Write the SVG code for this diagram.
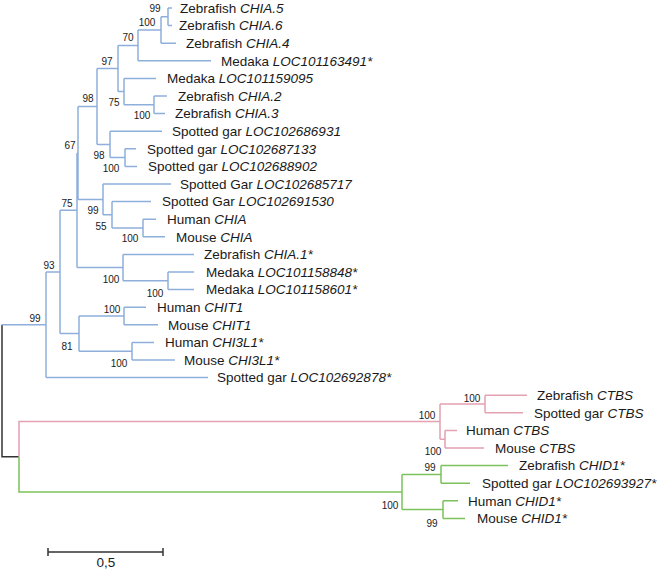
<svg xmlns="http://www.w3.org/2000/svg" width="662" height="569" viewBox="0 0 662 569">
<style>
.b{fill:none;stroke:#8eaedb;stroke-width:1.5}
.p{fill:none;stroke:#e3a1b1;stroke-width:1.5}
.g{fill:none;stroke:#7cc15b;stroke-width:1.5}
.k{fill:none;stroke:#333;stroke-width:1.5}
.t{font-family:"Liberation Sans",Arial,sans-serif;font-size:13.5px;fill:#1a1a1a}
.i{font-style:italic}
.s{font-family:"Liberation Sans",Arial,sans-serif;font-size:10px;fill:#1a1a1a;text-anchor:middle}
</style>
<rect width="662" height="569" fill="#fff"/>
<g id="connectors">
<path class="k" d="M2,324.75V456.8H19"/>
<path class="b" d="M2,324.75H46M46,271.9V377.6M46,377.6H208M46,271.9H60
M60,210.25V333.6M60,210.25H77M60,333.6H79
M77,152.9V267.6M77,152.9H78M77,267.6H123
M78,106.45V199.4M78,106.45H97M78,199.4H103
M97,68.5V144.4M97,68.5H118M97,144.4H110
M118,45.4V91.6M118,45.4H138M118,91.6H124
M138,30V60.8M138,30H161M138,60.8H211
M161,16.8V43.2M161,16.8H168M161,43.2H176
M168,8V25.6M168,8H172M168,25.6H172
M124,78.4V104.8M124,78.4H156M124,104.8H154
M154,96V113.6M154,96H167M154,113.6H165
M110,131.2V157.6M110,131.2H162M110,157.6H125
M125,148.8V166.4M125,148.8H136M125,166.4H137
M103,184V214.8M103,184H171M103,214.8H112
M112,201.6V228M112,201.6H151M112,228H143
M143,219.2V236.8M143,219.2H156M143,236.8H165
M123,254.4V280.8M123,254.4H194M123,280.8H168
M168,272V289.6M168,272H194M168,289.6H194
M79,316V351.2M79,316H124M79,351.2H132
M124,307.2V324.8M124,307.2H146M124,324.8H158
M132,342.4V360M132,342.4H154M132,360H175"/>
<path class="p" d="M19,456.8V421.6H440M440,404V439.2M440,404H485M440,439.2H445
M485,395.2V412.8M485,395.2H527M485,412.8H523
M445,430.4V448M445,430.4H457M445,448H484"/>
<path class="g" d="M19,456.8V492H402M402,474.4V509.6M402,474.4H441M402,509.6H443
M441,465.6V483.2M441,465.6H508M441,483.2H470
M443,500.8V518.4M443,500.8H458M443,518.4H465"/>
</g>
<g id="leaves">
<g id="l0"><text class="t" x="180" y="12.8">Zebrafish <tspan class="i">CHIA.5</tspan></text></g>
<g id="l1"><text class="t" x="179" y="30.4">Zebrafish <tspan class="i">CHIA.6</tspan></text></g>
<g id="l2"><text class="t" x="186" y="48">Zebrafish <tspan class="i">CHIA.4</tspan></text></g>
<g id="l3"><text class="t" x="221" y="65.6">Medaka <tspan class="i">LOC101163491*</tspan></text></g>
<g id="l4"><text class="t" x="167" y="83.2">Medaka <tspan class="i">LOC101159095</tspan></text></g>
<g id="l5"><text class="t" x="178" y="100.8">Zebrafish <tspan class="i">CHIA.2</tspan></text></g>
<g id="l6"><text class="t" x="175" y="118.4">Zebrafish <tspan class="i">CHIA.3</tspan></text></g>
<g id="l7"><text class="t" x="172" y="136">Spotted gar <tspan class="i">LOC102686931</tspan></text></g>
<g id="l8"><text class="t" x="147" y="153.6">Spotted gar <tspan class="i">LOC102687133</tspan></text></g>
<g id="l9"><text class="t" x="148" y="171.2">Spotted gar <tspan class="i">LOC102688902</tspan></text></g>
<g id="l10"><text class="t" x="180" y="188.8">Spotted Gar <tspan class="i">LOC102685717</tspan></text></g>
<g id="l11"><text class="t" x="162" y="206.4">Spotted Gar <tspan class="i">LOC102691530</tspan></text></g>
<g id="l12"><text class="t" x="167" y="224">Human <tspan class="i">CHIA</tspan></text></g>
<g id="l13"><text class="t" x="176" y="241.6">Mouse <tspan class="i">CHIA</tspan></text></g>
<g id="l14"><text class="t" x="204" y="259.2">Zebrafish <tspan class="i">CHIA.1*</tspan></text></g>
<g id="l15"><text class="t" x="206" y="276.8">Medaka <tspan class="i">LOC101158848*</tspan></text></g>
<g id="l16"><text class="t" x="206" y="294.4">Medaka <tspan class="i">LOC101158601*</tspan></text></g>
<g id="l17"><text class="t" x="157" y="312">Human <tspan class="i">CHIT1</tspan></text></g>
<g id="l18"><text class="t" x="168" y="329.6">Mouse <tspan class="i">CHIT1</tspan></text></g>
<g id="l19"><text class="t" x="165" y="347.2">Human <tspan class="i">CHI3L1*</tspan></text></g>
<g id="l20"><text class="t" x="184" y="364.8">Mouse <tspan class="i">CHI3L1*</tspan></text></g>
<g id="l21"><text class="t" x="217" y="382.4">Spotted gar <tspan class="i">LOC102692878*</tspan></text></g>
<g id="l22"><text class="t" x="537" y="400">Zebrafish <tspan class="i">CTBS</tspan></text></g>
<g id="l23"><text class="t" x="534" y="417.6">Spotted gar <tspan class="i">CTBS</tspan></text></g>
<g id="l24"><text class="t" x="466" y="435.2">Human <tspan class="i">CTBS</tspan></text></g>
<g id="l25"><text class="t" x="495" y="452.8">Mouse <tspan class="i">CTBS</tspan></text></g>
<g id="l26"><text class="t" x="519" y="470.4">Zebrafish <tspan class="i">CHID1*</tspan></text></g>
<g id="l27"><text class="t" x="482" y="488">Spotted gar <tspan class="i">LOC102693927*</tspan></text></g>
<g id="l28"><text class="t" x="468" y="505.6">Human <tspan class="i">CHID1*</tspan></text></g>
<g id="l29"><text class="t" x="477" y="523.2">Mouse <tspan class="i">CHID1*</tspan></text></g>
</g>
<g id="support">
<g id="nN"><text class="s" x="155" y="12">99</text></g>
<g id="nL"><text class="s" x="147" y="25.5">100</text></g>
<g id="nJ"><text class="s" x="128" y="40.5">70</text></g>
<g id="nI"><text class="s" x="107" y="64.5">97</text></g>
<g id="nK"><text class="s" x="114" y="105.5">75</text></g>
<g id="nP"><text class="s" x="142" y="118.5">100</text></g>
<g id="nF"><text class="s" x="88" y="101.5">98</text></g>
<g id="nG"><text class="s" x="99" y="158.5">98</text></g>
<g id="nH"><text class="s" x="111" y="171.5">100</text></g>
<g id="nB"><text class="s" x="70" y="148.5">67</text></g>
<g id="nC"><text class="s" x="93" y="213.5">99</text></g>
<g id="nD"><text class="s" x="101" y="229.5">55</text></g>
<g id="nE"><text class="s" x="130" y="241.5">100</text></g>
<g id="nA"><text class="s" x="67" y="206.5">75</text></g>
<g id="nZ"><text class="s" x="111" y="282.5">100</text></g>
<g id="nM"><text class="s" x="155" y="296.5">100</text></g>
<g id="nQ"><text class="s" x="49" y="268.5">93</text></g>
<g id="nS"><text class="s" x="112" y="312.5">100</text></g>
<g id="nR"><text class="s" x="67" y="349.5">81</text></g>
<g id="nT"><text class="s" x="119" y="366.5">100</text></g>
<g id="nBR"><text class="s" x="35" y="321.5">99</text></g>
<g id="nU"><text class="s" x="472" y="401.5">100</text></g>
<g id="nPK"><text class="s" x="427" y="418.5">100</text></g>
<g id="nV"><text class="s" x="433" y="454.5">100</text></g>
<g id="nW"><text class="s" x="430" y="471">99</text></g>
<g id="nX"><text class="s" x="432" y="526.5">99</text></g>
<g id="nGR"><text class="s" x="390" y="508.5">100</text></g>
</g>
<g id="scale">
<path class="k" d="M48,552H163M48,548V556M163,548V556"/>
<text class="t" x="106" y="567" text-anchor="middle">0,5</text>
</g>
</svg>
